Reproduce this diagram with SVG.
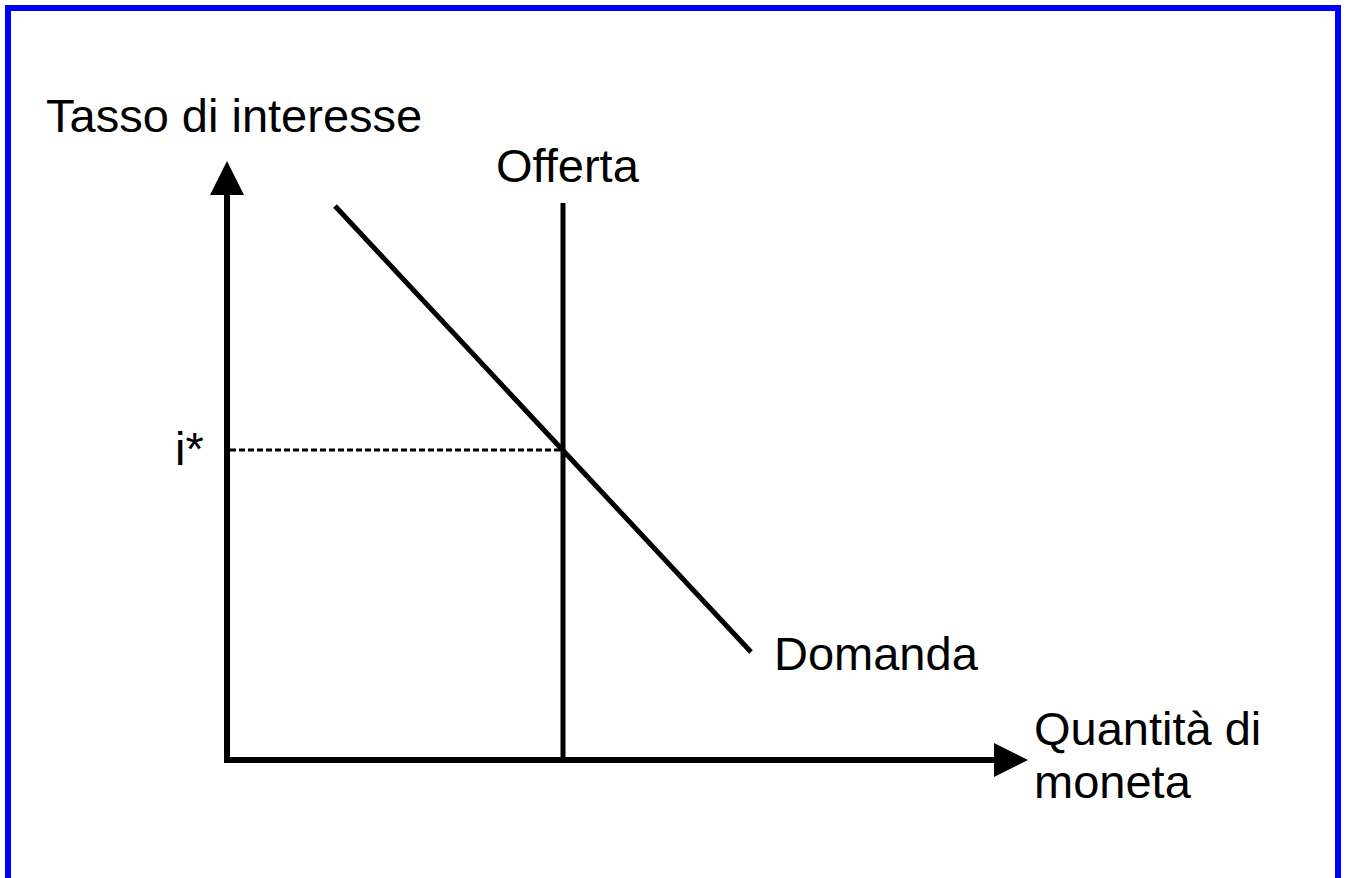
<svg xmlns="http://www.w3.org/2000/svg" width="1346" height="878" viewBox="0 0 1346 878">
  <style>
    .lbl { font-family: "Liberation Sans", Arial, sans-serif; font-size: 47px; fill: #000; }
    .ax { stroke: #000; stroke-width: 6; fill: none; }
    .crv { stroke: #000; stroke-width: 5; fill: none; }
    .dot { stroke: #000; stroke-width: 3; stroke-dasharray: 6 3; fill: none; }
  </style>
  <defs>
    <marker id="arr" markerUnits="userSpaceOnUse" markerWidth="34" markerHeight="34" viewBox="0 0 34 34" refX="1" refY="17" orient="auto">
      <path d="M0,0 L34,17 L0,34 Z" fill="#000"/>
    </marker>
  </defs>
  <rect x="0" y="0" width="1346" height="878" fill="#fff"/>
  <rect id="frame" x="8" y="8" width="1330" height="890" fill="none" stroke="#0000ff" stroke-width="6"/>
  <g id="connectors">
    <line class="ax" x1="227" y1="763" x2="227" y2="194" marker-end="url(#arr)"/>
    <line class="ax" x1="224" y1="760" x2="995" y2="760" marker-end="url(#arr)"/>
    <line class="dot" x1="230" y1="450" x2="563" y2="450"/>
  </g>
  <g id="supply">
    <line class="crv" x1="563" y1="203" x2="563" y2="760"/>
    <text class="lbl" x="496" y="182">Offerta</text>
  </g>
  <g id="demand">
    <line class="crv" x1="335" y1="206" x2="751" y2="652"/>
    <text class="lbl" x="774" y="670">Domanda</text>
  </g>
  <g id="y-axis-label">
    <text class="lbl" x="46" y="132">Tasso di interesse</text>
  </g>
  <g id="x-axis-label">
    <text class="lbl" x="1034" y="745">Quantità di</text>
    <text class="lbl" x="1034" y="798">moneta</text>
  </g>
  <g id="equilibrium-label">
    <text class="lbl" x="175" y="465">i*</text>
  </g>
</svg>
